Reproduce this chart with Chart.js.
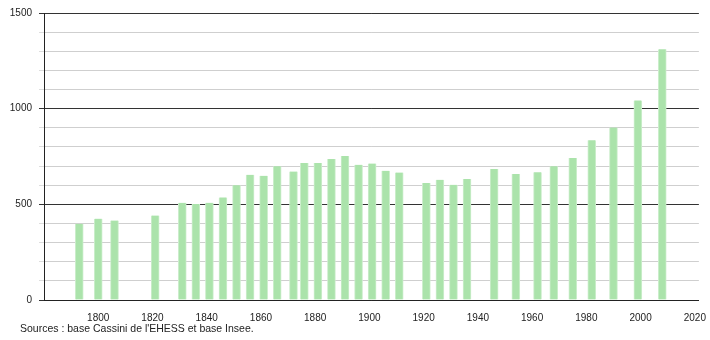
<!DOCTYPE html>
<html>
<head>
<meta charset="utf-8">
<script src="https://cdn.jsdelivr.net/npm/chart.js@4"></script>
<style>
html,body{margin:0;padding:0;background:#fff;}
canvas{display:block;}
</style>
</head>
<body>
<canvas id="c" width="710" height="340"></canvas>
<script>
const years = [1793,1800,1806,1821,1831,1836,1841,1846,1851,1856,1861,1866,1872,1876,1881,1886,1891,1896,1901,1906,1911,1921,1926,1931,1936,1946,1954,1962,1968,1975,1982,1990,1999,2008];
const population = [398,425,415,441,508,502,508,536,600,654,649,699,671,716,716,737,752,707,713,675,666,612,628,602,633,685,659,668,699,742,835,901,1043,1311];
const xTickValues = [1800,1820,1840,1860,1880,1900,1920,1940,1960,1980,2000,2020];
const yLabelValues = [0,500,1000,1500];
const sourceText = "Sources : base Cassini de l'EHESS et base Insee.";

const FONT = "'Liberation Sans', Arial, sans-serif";

const footer = {
  id: 'footer',
  afterDraw(chart) {
    const ctx = chart.ctx;
    ctx.save();
    ctx.font = '10.5px ' + FONT;
    ctx.fillStyle = '#222';
    ctx.textBaseline = 'middle';
    ctx.textAlign = 'left';
    ctx.fillText(sourceText, 20, 329);
    ctx.restore();
  }
};

new Chart(document.getElementById('c'), {
  type: 'bar',
  data: {
    datasets: [{
      data: years.map((y, i) => ({x: y, y: population[i]})),
      backgroundColor: '#abe3ab',
      borderColor: '#cdeecd',
      borderWidth: {left: 1, right: 1, top: 0, bottom: 0},
      borderSkipped: false,
      barThickness: 8
    }]
  },
  options: {
    responsive: false,
    animation: false,
    devicePixelRatio: 1,
    layout: {padding: {left: 0, top: 9, right: 10, bottom: 0}},
    plugins: {legend: {display: false}, tooltip: {enabled: false}},
    scales: {
      x: {
        type: 'linear',
        offset: false,
        min: 1780,
        max: 2021.5,
        afterBuildTicks(scale) { scale.ticks = xTickValues.map(v => ({value: v})); },
        afterFit(scale) { scale.height = 40; },
        grid: {display: false, offset: false},
        border: {display: true, color: '#222', width: 1},
        ticks: {
          callback: v => String(v),
          font: {family: FONT, size: 10},
          color: '#222',
          padding: 4,
          maxRotation: 0,
          autoSkip: false
        }
      },
      y: {
        min: 0,
        max: 1500,
        afterFit(scale) { scale.width = 44; },
        grid: {
          color: ctx => (ctx.tick && ctx.tick.value % 500 === 0) ? '#333' : '#cfcfcf',
          tickColor: ctx => (ctx.tick && ctx.tick.value % 500 === 0) ? '#333' : '#dddddd',
          tickLength: 5,
          lineWidth: 1
        },
        border: {display: true, color: '#222', width: 1},
        ticks: {
          stepSize: 100,
          autoSkip: false,
          callback: v => yLabelValues.includes(v) ? String(v) : '',
          font: {family: FONT, size: 10},
          color: '#222',
          padding: 7
        }
      }
    }
  },
  plugins: [footer]
});
</script>
</body>
</html>
